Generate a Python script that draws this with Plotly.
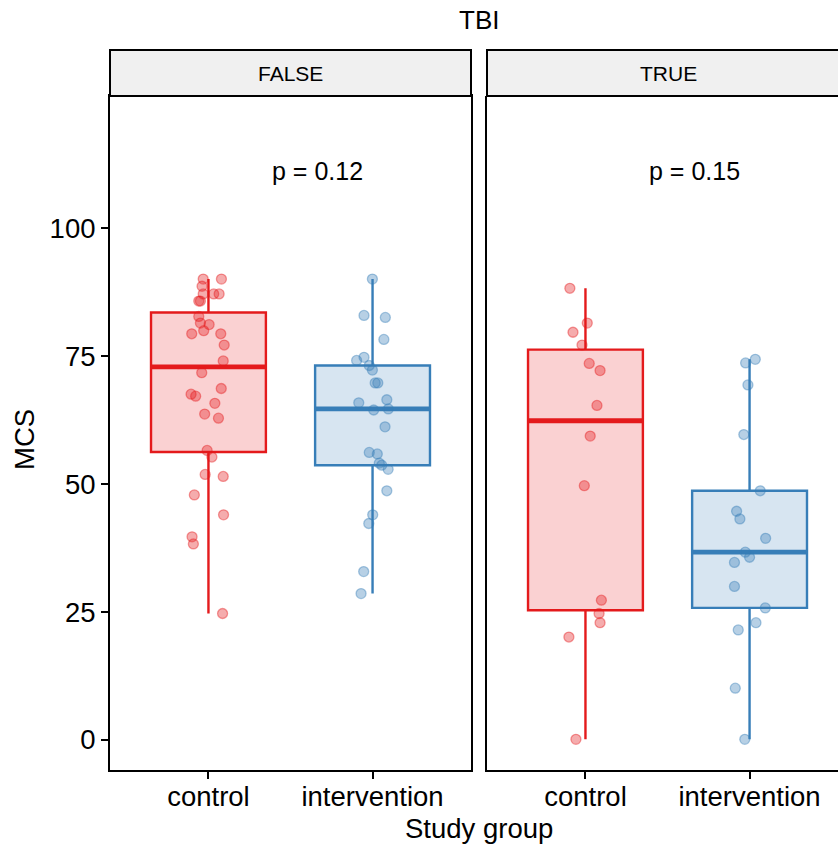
import numpy as np
import plotly.graph_objects as go

# ---------------- data ----------------
facets = ["FALSE", "TRUE"]
groups = ["control", "intervention"]
y_ticks = [0, 25, 50, 75, 100]
p_values = ["0.12", "0.15"]

mcs_false_control = [90.1, 90.1, 88.7, 87.2, 87.2, 87.2, 85.8, 85.8, 82.8, 81.5, 81.2, 80.0,
                     79.4, 79.4, 77.2, 74.1, 71.8, 68.7, 67.6, 67.2, 65.8, 63.7, 62.9, 56.6,
                     55.3, 51.9, 51.5, 47.9, 44.0, 39.7, 38.3, 24.7]
jit_false_control = [-0.032, 0.079, -0.039, -0.032, 0.032, 0.065, -0.059, -0.049, -0.059, -0.049,
                     0.004, -0.029, -0.102, 0.075, 0.096, 0.090, -0.041, 0.078, -0.106, -0.078,
                     0.039, -0.023, 0.061, -0.008, 0.021, -0.020, 0.090, -0.086, 0.092, -0.100,
                     -0.092, 0.086]

mcs_false_interv = [90.1, 83.0, 82.6, 78.3, 74.8, 74.2, 73.2, 72.3, 69.8, 69.8, 66.5, 65.9,
                    64.7, 64.5, 61.2, 56.2, 55.9, 54.1, 53.7, 52.9, 48.7, 44.0, 42.3, 32.9, 28.6]
jit_false_interv = [-0.001, -0.052, 0.078, 0.069, -0.052, -0.097, -0.020, -0.001, 0.016, 0.032,
                    0.087, -0.084, 0.096, 0.007, 0.076, -0.020, 0.029, 0.041, 0.056, 0.095,
                    0.087, 0.001, -0.023, -0.054, -0.070]

mcs_true_control = [88.3, 81.5, 79.7, 77.2, 73.6, 72.2, 65.4, 59.4, 49.7, 27.3, 24.7, 22.9, 20.1, 0.1]
jit_true_control = [-0.095, 0.011, -0.076, -0.021, 0.023, 0.089, 0.070, 0.029, -0.007, 0.097,
                    0.083, 0.089, -0.101, -0.058]

mcs_true_interv = [74.4, 73.7, 69.4, 59.7, 48.7, 44.7, 43.2, 39.4, 36.7, 35.7, 34.7, 30.0,
                   25.8, 22.9, 21.5, 10.1, 0.1]
jit_true_interv = [0.035, -0.024, -0.010, -0.035, 0.065, -0.079, -0.059, 0.098, -0.026, 0.000,
                   -0.092, -0.092, 0.096, 0.039, -0.069, -0.087, -0.029]

# ---------------- styling ----------------
FONT = "Liberation Sans, Arial, Helvetica, sans-serif"
line_col = {"control": "#E41A1C", "intervention": "#377EB8"}
fill_col = {"control": "rgba(228,26,28,0.2)", "intervention": "rgba(55,126,184,0.2)"}
pt_col = {"control": "rgba(228,26,28,0.36)", "intervention": "rgba(55,126,184,0.36)"}
pt_edge = {"control": "rgba(228,26,28,0.42)", "intervention": "rgba(55,126,184,0.42)"}
BOX_W = 0.7

W, H = 838, 847
def px(x):
    return x / W
def py(y):
    return (H - y) / H

panel_top, panel_bot = 96, 770
strip_top = 50

fig = go.Figure()

series = {
    ("FALSE", "control"): (mcs_false_control, jit_false_control),
    ("FALSE", "intervention"): (mcs_false_interv, jit_false_interv),
    ("TRUE", "control"): (mcs_true_control, jit_true_control),
    ("TRUE", "intervention"): (mcs_true_interv, jit_true_interv),
}

for fi, facet in enumerate(facets):
    xa = "x" if fi == 0 else "x2"
    ya = "y" if fi == 0 else "y2"
    for gi, g in enumerate(groups):
        vals, jit = series[(facet, g)]
        v = np.array(vals)
        c = gi + 1
        q1, med, q3 = np.percentile(v, [25, 50, 75])
        iqr = q3 - q1
        lo = v[v >= q1 - 1.5 * iqr].min()
        hi = v[v <= q3 + 1.5 * iqr].max()
        fig.add_trace(go.Box(
            x=[c], q1=[q1], median=[med], q3=[q3], lowerfence=[lo], upperfence=[hi],
            width=BOX_W, whiskerwidth=0, boxpoints=False,
            line=dict(color=line_col[g], width=2.4), fillcolor=fill_col[g],
            xaxis=xa, yaxis=ya, showlegend=False, hoverinfo="skip"))
        # thicker median line (ggplot fatten)
        fig.add_trace(go.Scatter(
            x=[c - BOX_W / 2, c + BOX_W / 2], y=[med, med], mode="lines",
            line=dict(color=line_col[g], width=4.8), xaxis=xa, yaxis=ya,
            showlegend=False, hoverinfo="skip"))
    for gi, g in enumerate(groups):
        vals, jit = series[(facet, g)]
        c = gi + 1
        fig.add_trace(go.Scatter(
            x=[c + j for j in jit], y=vals, mode="markers",
            marker=dict(size=10, color=pt_col[g], line=dict(color=pt_edge[g], width=1.3)),
            xaxis=xa, yaxis=ya, showlegend=False, hoverinfo="skip"))

ymin, ymax = -5.9, 125.9
tickfont = dict(family=FONT, size=27.5, color="black")

fig.update_layout(
    width=W, height=H, margin=dict(l=0, r=0, t=0, b=0),
    paper_bgcolor="white", plot_bgcolor="white",
    boxmode="overlay", showlegend=False,
    font=dict(family=FONT, color="black"),
    xaxis=dict(domain=[px(110), px(471)], range=[0.4, 2.6],
               tickvals=[1, 2], ticktext=groups, tickfont=tickfont,
               showline=True, linecolor="black", linewidth=2, mirror=True,
               ticks="outside", ticklen=7, tickwidth=2, tickcolor="black",
               showgrid=False, zeroline=False, anchor="y"),
    xaxis2=dict(domain=[px(487), 1.0], range=[0.4, 0.4 + 351 / 164.1],
                tickvals=[1, 2], ticktext=groups, tickfont=tickfont,
                showline=True, linecolor="black", linewidth=2, mirror=False,
                ticks="outside", ticklen=7, tickwidth=2, tickcolor="black",
                showgrid=False, zeroline=False, anchor="y2"),
    yaxis=dict(domain=[py(panel_bot), py(panel_top)], range=[ymin, ymax],
               tickvals=y_ticks, tickfont=tickfont,
               showline=True, linecolor="black", linewidth=2, mirror=True,
               ticks="outside", ticklen=7, tickwidth=2, tickcolor="black",
               showgrid=False, zeroline=False, anchor="x"),
    yaxis2=dict(domain=[py(panel_bot), py(panel_top)], range=[ymin, ymax], matches="y",
                showticklabels=False, ticks="",
                showline=True, linecolor="black", linewidth=2, mirror=False,
                showgrid=False, zeroline=False, anchor="x2"),
)

# strips
strip_x = [(110, 471), (487, 850)]
shapes = []
annotations = []
for (x0, x1), lab in zip(strip_x, facets):
    shapes.append(dict(type="rect", xref="paper", yref="paper",
                       x0=px(x0), x1=px(x1), y0=py(panel_top), y1=py(strip_top),
                       fillcolor="#F0F0F0", line=dict(color="black", width=2), layer="above"))
for lab, xc in zip(facets, [290.5, 668]):
    annotations.append(dict(text=lab, x=px(xc), y=py(73), xref="paper", yref="paper",
                             showarrow=False, font=dict(family=FONT, size=21, color="black"),
                             xanchor="center", yanchor="middle"))

# p-values
for fi, p in enumerate(p_values):
    annotations.append(dict(text=f"p = {p}", x=1.667, y=111.2,
                            xref="x" if fi == 0 else "x2", yref="y" if fi == 0 else "y2",
                            showarrow=False, font=dict(family=FONT, size=25, color="black"),
                            xanchor="center", yanchor="middle"))

# facet title and axis titles
annotations.append(dict(text="TBI", x=px(479), y=py(20), xref="paper", yref="paper",
                        showarrow=False, font=dict(family=FONT, size=26, color="black"),
                        xanchor="center", yanchor="middle"))
annotations.append(dict(text="Study group", x=px(479), y=py(828), xref="paper", yref="paper",
                        showarrow=False, font=dict(family=FONT, size=27.5, color="black"),
                        xanchor="center", yanchor="middle"))
annotations.append(dict(text="MCS", x=px(25), y=py(440), xref="paper", yref="paper",
                        showarrow=False, textangle=-90,
                        font=dict(family=FONT, size=27.5, color="black"),
                        xanchor="center", yanchor="middle"))

fig.update_layout(shapes=shapes, annotations=annotations)
fig.update_xaxes(ticklabelstandoff=-6)

fig.write_html("out.html", config={"displayModeBar": False},
               post_script="document.body.style.margin='0';document.body.style.overflow='hidden';")
